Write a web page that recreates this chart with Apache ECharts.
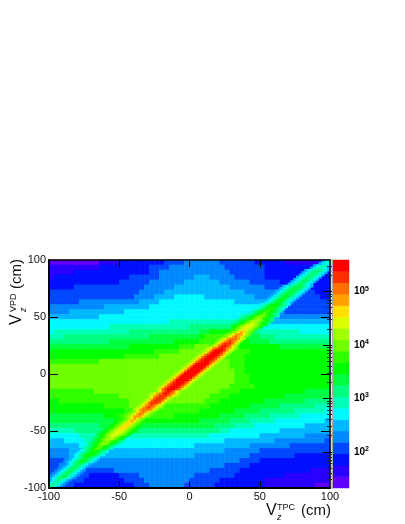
<!DOCTYPE html>
<html>
<head>
<meta charset="utf-8">
<title>Vz VPD vs TPC</title>
<script src="https://cdn.jsdelivr.net/npm/echarts@6/dist/echarts.min.js"></script>
<style>
html, body { margin: 0; padding: 0; background: #fff; }
#chart { width: 405px; height: 524px; }
</style>
</head>
<body>
<div id="chart"></div>
<script>
// colour band of the palette, lowest first, letter a = first entry
var bandCounts = [27, 44, 72, 118, 193, 316, 517, 847, 1390, 2270, 3720, 6090, 9980, 16300, 26800, 43800, 71800, 118000, 192000, 315000]
var bandColors = ['#6000ff', '#2a00ff', '#0010ff', '#0048ff', '#0088ff', '#00b8ff', '#00f8ff', '#00ffb8', '#00ff80', '#00ff40',
  '#00ff00', '#30ff00', '#70ff00', '#a0ff00', '#dcff00', '#ffe000', '#ffa000', '#ff7000', '#ff3000', '#ff0000']

// broad background, top (Vz VPD = 100) to bottom, runs of band letters, 56 cells a row
var cellRows = [
  'a10b4c9d4e7d7c6b9',
  'b10c10d4e11d8c13',
  'b5c15d2e14d7c13',
  'b1c15d6e7f3e5d6c13',
  'c14d6e7f7e6d6c10',
  'c5d14e6f11e7d5c8',
  'd18e5f16e7d7c3',
  'd17e4f4g6f10e6d7c2',
  'd6e12f4g15f7e2d10',
  'e11f9g22f2e3d9',
  'e4f11g30f1e1d9',
  'f10g28h4g2f2e10',
  'g24h17g3f12',
  'g12h16i11h2g15',
  'g1h15i14j2k6j2i2h8g6',
  'h3i17j10k1l5k3j3i3h11',
  'i12j13k5l5k5j4i12',
  'j16k10l3m3l6k8j10',
  'k21l5m7l7k16',
  'k15l7m13l4k17',
  'l10m26l3k17',
  'm36l3k17',
  'm37l2k17',
  'm37l3k16',
  'm37l3k16',
  'm36l5k15',
  'l9m25l4k13j5',
  'l14m18l4k11j9',
  'k2l14m15l3k9j8i5',
  'k11l5m7l9k8j6i7h3',
  'k15l15k7j5i7h6g1',
  'j11k3l11k9j5i5h6g6',
  'j13k17j6i4h5g10f1',
  'i10j4k3j16i4h4g10f5',
  'h5i7j6i16h2g10f10',
  'g6h4i6h16g10f9e5',
  'f3g4h7g21f10e10d1',
  'f6g23f11e8d8',
  'e4f3g5f23e7d14',
  'e4f25e11d9c7',
  'd3e35d4c14',
  'd2e33d5c16',
  'd13e19d6c14b4',
  'd8c6d4e11d8c10b9',
  'd7c8d4e9d6c9b13',
  'd5c12d3e7d6c10b10a3'
]

// narrow diagonal on the 100x100 bins, first row is the lower left corner:
// letters go from the ridge centre outwards, both sides alike
var ridgeRows = [
  'ihgfe', 'ihgfe', 'ihgfe', 'ihgfe', 'jihgfe', 'jihgfe', 'jihgfe', 'jihgfe', 'jihgfe', 'jihgfe',
  'jihgfe', 'kjihgfe', 'kjihgfe', 'kjihgfe', 'kkjihgf', 'kkjihgf', 'lkjihgf', 'mlkjihg', 'mlkjihg', 'nmlkjih',
  'nmlkjih', 'nnmlkji', 'onmlkji', 'oonmlkj', 'oonmlkj', 'ponmlkj', 'ppnmlkj', 'ppnmlkj', 'ppnmlkj', 'qpnmlkj',
  'qpnml', 'qqpnml', 'rqonml', 'rqpnm', 'rrqonm', 'srqonm', 'srqonm', 'ssrpnm', 'ssrpnm', 'ssrpnm',
  'ssrqon', 'tsrqon', 'tsrpn', 'ttsrpn', 'ttsrpn', 'ttsrpn', 'ttsrpn', 'tttrpn', 'tttrpn', 'tttrpn',
  'tttrpn', 'tttrpn', 'tttrpn', 'tttrpn', 'tttrpn', 'ttsrpn', 'ttsrpn', 'ttsrpn', 'ttsrpn', 'ttsqon',
  'ttsqon', 'tsrqon', 'tsrpn', 'ssrpn', 'srqon', 'rrqon', 'rqpnm', 'qqonm', 'qpnml', 'ponml',
  'ponmlk', 'oonmlkj', 'onmlkji', 'nnmlkji', 'nmlkji', 'mmlkjih', 'mlkjih', 'llkjih', 'lkjihg', 'lkjihg',
  'kkjihg', 'kjihgf', 'kjihgf', 'kjihgf', 'kjihgf', 'jjihgf', 'jjihgf', 'jjihgf', 'jjihgf', 'jihgf',
  'jihgf', 'jihgf', 'iihgf', 'iihgf', 'iihgf', 'iihgf', 'hhgf', 'hhgf', 'hgf', 'hgf'
]

var axisTicks = [-100, -50, 0, 50, 100]
var paletteMajor = [100, 1000, 10000, 100000]
var paletteMinor = [30, 40, 50, 60, 70, 80, 90, 200, 300, 400, 500, 600, 700, 800, 900, 2000, 3000, 4000, 5000, 6000, 7000, 8000, 9000,
  20000, 30000, 40000, 50000, 60000, 70000, 80000, 90000, 200000, 300000]

var letters = 'abcdefghijklmnopqrst'
var levels = []
var cells = []
cellRows.forEach(function (row, r) {
  var line = []
  row.match(/[a-t]\d+/g).forEach(function (run) {
    var n = parseInt(run.slice(1))
    for (var k = 0; k < n; k++) {
      cells.push([line.length, cellRows.length - 1 - r, bandCounts[letters.indexOf(run[0])]])
      line.push(letters.indexOf(run[0]))
    }
  })
  levels.push(line)
})

// ridge cells, only where they stand above the background
var ridgeCells = []
function addRidgeCell(col, row, level) {
  if (col < 0 || col > 99) return
  var bg = levels[Math.floor((99 - row) * 46 / 100)][Math.floor(col * 56 / 100)]
  if (level > bg) ridgeCells.push([col, row, bandCounts[level]])
}
ridgeRows.forEach(function (text, row) {
  for (var d = 0; d < text.length; d++) {
    var level = letters.indexOf(text[d])
    addRidgeCell(row + d, row, level)
    if (d > 0) addRidgeCell(row - d, row, level)
  }
})

var colIndex = []
for (var c = 0; c < 56; c++) colIndex.push(c)
var rowIndex = cellRows.map(function (r, i) { return i })
var binIndex = ridgeRows.map(function (r, i) { return i })
var paletteCells = bandCounts.map(function (v, i) { return [0, i, v] })

var pieces = bandCounts.map(function (v, i) { return { value: v, color: bandColors[i] } })

var labelFont = 'Liberation Sans'
var tickLabel = { show: true, color: '#111', fontFamily: labelFont, fontSize: 11, customValues: axisTicks }

var myChart = echarts.init(document.getElementById('chart'))
var option = {
  animation: false,
  backgroundColor: '#fff',
  visualMap: { show: false, type: 'piecewise', pieces: pieces, seriesIndex: [0, 1, 2] },
  grid: [
    { left: 49, top: 260, width: 281, height: 228 },
    { left: 49, top: 260, width: 281, height: 228 },
    { left: 332, top: 260, width: 17, height: 228 },
    { left: 332, top: 260, width: 17, height: 228 },
    { left: 332, top: 260, width: 17, height: 228 },
    { left: 49, top: 260, width: 281, height: 228 }
  ],
  xAxis: [
    { type: 'category', gridIndex: 0, data: colIndex, show: false },
    {
      type: 'value', gridIndex: 1, position: 'bottom', min: -100, max: 100, z: 10, splitLine: { show: false },
      axisLine: { onZero: false, lineStyle: { color: '#000', width: 2 } },
      axisTick: { inside: true, length: 7, customValues: [-50, 0, 50], lineStyle: { color: '#000' } },
      axisLabel: Object.assign({ margin: 3, showMinLabel: true, showMaxLabel: true }, tickLabel)
    },
    {
      type: 'value', gridIndex: 1, position: 'top', min: -100, max: 100, z: 10, splitLine: { show: false },
      axisLine: { onZero: false, lineStyle: { color: '#000', width: 1.5 } },
      axisTick: { inside: true, length: 7, customValues: [-50, 0, 50], lineStyle: { color: '#000' } },
      axisLabel: { show: false }
    },
    { type: 'category', gridIndex: 2, data: [0], show: false },
    { type: 'value', gridIndex: 3, show: false },
    { type: 'value', gridIndex: 4, show: false },
    { type: 'category', gridIndex: 5, data: binIndex, show: false }
  ],
  yAxis: [
    { type: 'category', gridIndex: 0, data: rowIndex, show: false },
    {
      type: 'value', gridIndex: 1, position: 'left', min: -100, max: 100, z: 10, splitLine: { show: false },
      axisLine: { onZero: false, lineStyle: { color: '#000', width: 2 } },
      axisTick: { inside: true, length: 9, customValues: [-50, 0, 50], lineStyle: { color: '#000' } },
      axisLabel: Object.assign({ margin: 3, showMinLabel: true, showMaxLabel: true }, tickLabel)
    },
    {
      type: 'value', gridIndex: 1, position: 'right', min: -100, max: 100, z: 10, splitLine: { show: false },
      axisLine: { onZero: false, lineStyle: { color: '#000', width: 1.5 } },
      axisTick: { inside: true, length: 9, customValues: [-50, 0, 50], lineStyle: { color: '#000' } },
      axisLabel: { show: false }
    },
    {
      type: 'category', gridIndex: 2, data: bandCounts, z: 10,
      axisLine: { show: true, lineStyle: { color: '#aaa' } },
      axisTick: { show: false }, axisLabel: { show: false }
    },
    {
      type: 'log', gridIndex: 3, position: 'right', min: 21, max: 390000, z: 10, splitLine: { show: false },
      axisLine: { lineStyle: { color: '#aaa' } },
      axisTick: { inside: true, length: 9, customValues: paletteMajor, lineStyle: { color: '#000' } },
      axisLabel: {
        margin: 5, customValues: paletteMajor,
        formatter: function (v) { return '{a|10}{b|' + Math.round(Math.log10(v)) + '}' },
        rich: {
          a: { fontFamily: labelFont, fontSize: 10, fontWeight: 'bold', color: '#000' },
          b: { fontFamily: labelFont, fontSize: 7, fontWeight: 'bold', color: '#000', padding: [0, 0, 6, 0] }
        }
      }
    },
    {
      type: 'log', gridIndex: 4, position: 'right', min: 21, max: 390000, z: 10, splitLine: { show: false },
      axisLine: { show: false },
      axisTick: { inside: true, length: 5, customValues: paletteMinor, lineStyle: { color: '#222' } },
      axisLabel: { show: false, customValues: paletteMinor }
    },
    { type: 'category', gridIndex: 5, data: binIndex, show: false }
  ],
  series: [
    { type: 'heatmap', xAxisIndex: 0, yAxisIndex: 0, data: cells, progressive: 0 },
    { type: 'heatmap', xAxisIndex: 3, yAxisIndex: 3, data: paletteCells },
    { type: 'heatmap', xAxisIndex: 6, yAxisIndex: 6, data: ridgeCells, progressive: 0, z: 3 }
  ],
  graphic: [
    { type: 'text', left: 266, top: 503, style: { text: 'V', font: '16px "Liberation Sans"', fill: '#111' } },
    { type: 'text', left: 277, top: 503, style: { text: 'TPC', font: '9px "Liberation Sans"', fill: '#111' } },
    { type: 'text', left: 277, top: 513, style: { text: 'z', font: 'italic 9px "Liberation Sans"', fill: '#111' } },
    { type: 'text', left: 301, top: 503, style: { text: '(cm)', font: '15px "Liberation Sans"', fill: '#111' } },
    { type: 'text', x: 9, y: 325, rotation: Math.PI / 2, style: { text: 'V', font: '16px "Liberation Sans"', fill: '#111' } },
    { type: 'text', x: 9, y: 312, rotation: Math.PI / 2, style: { text: 'VPD', font: '9px "Liberation Sans"', fill: '#111' } },
    { type: 'text', x: 19, y: 312, rotation: Math.PI / 2, style: { text: 'z', font: 'italic 9px "Liberation Sans"', fill: '#111' } },
    { type: 'text', x: 9, y: 289, rotation: Math.PI / 2, style: { text: '(cm)', font: '15px "Liberation Sans"', fill: '#111' } }
  ]
}
myChart.setOption(option)
</script>
</body>
</html>
